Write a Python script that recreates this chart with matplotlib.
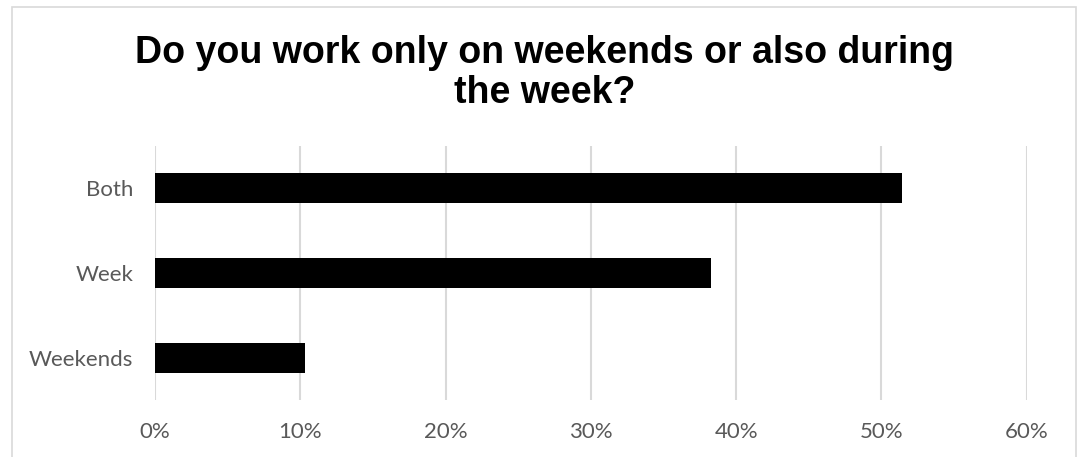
import matplotlib
matplotlib.use("Agg")
import matplotlib.pyplot as plt
from matplotlib.patches import Rectangle
from matplotlib.ticker import FuncFormatter

categories = ["Weekends", "Week", "Both"]
shares = [10.3, 38.3, 51.4]
x_ticks = [0, 10, 20, 30, 40, 50, 60]

W, H = 1079, 457
fig = plt.figure(figsize=(W / 100, H / 100), dpi=100)
fig.patch.set_facecolor("white")

# light frame around the chart area
fig.add_artist(Rectangle((12 / W, -0.05), (1076 - 12) / W, 1.05 - 7 / H,
                         transform=fig.transFigure, fill=False,
                         edgecolor="#d9d9d9", linewidth=1.2))

left, right, top, bottom = 155, 1026.7, 146, 400
ax = fig.add_axes([left / W, 1 - bottom / H, (right - left) / W, (bottom - top) / H])

y = range(len(categories))
ax.barh(y, shares, height=0.355, color="black", zorder=3)

ax.set_xlim(0, 60)
ax.set_ylim(-0.5, len(categories) - 0.5)
ax.set_xticks(x_ticks)
ax.xaxis.set_major_formatter(FuncFormatter(lambda v, _: f"{v:.0f}%"))
ax.set_yticks(list(y))
ax.set_yticklabels(categories)

ax.grid(axis="x", color="#d9d9d9", linewidth=1.5, zorder=0)
ax.set_axisbelow(True)
for s in ax.spines.values():
    s.set_visible(False)

ax.tick_params(axis="both", length=0, labelcolor="#595959", labelsize=16)
ax.tick_params(axis="y", pad=15.5)
ax.tick_params(axis="x", pad=16)
for lab in ax.get_xticklabels() + ax.get_yticklabels():
    lab.set_fontfamily("Lato")

fig.text(544.5 / W, 1 - 63 / H, "Do you work only on weekends or also during",
         ha="center", va="baseline", fontsize=27, fontweight="bold",
         family="Liberation Sans", color="black")
fig.text(544.5 / W, 1 - 103 / H, "the week?",
         ha="center", va="baseline", fontsize=27, fontweight="bold",
         family="Liberation Sans", color="black")

fig.savefig("out.png", dpi=100)
